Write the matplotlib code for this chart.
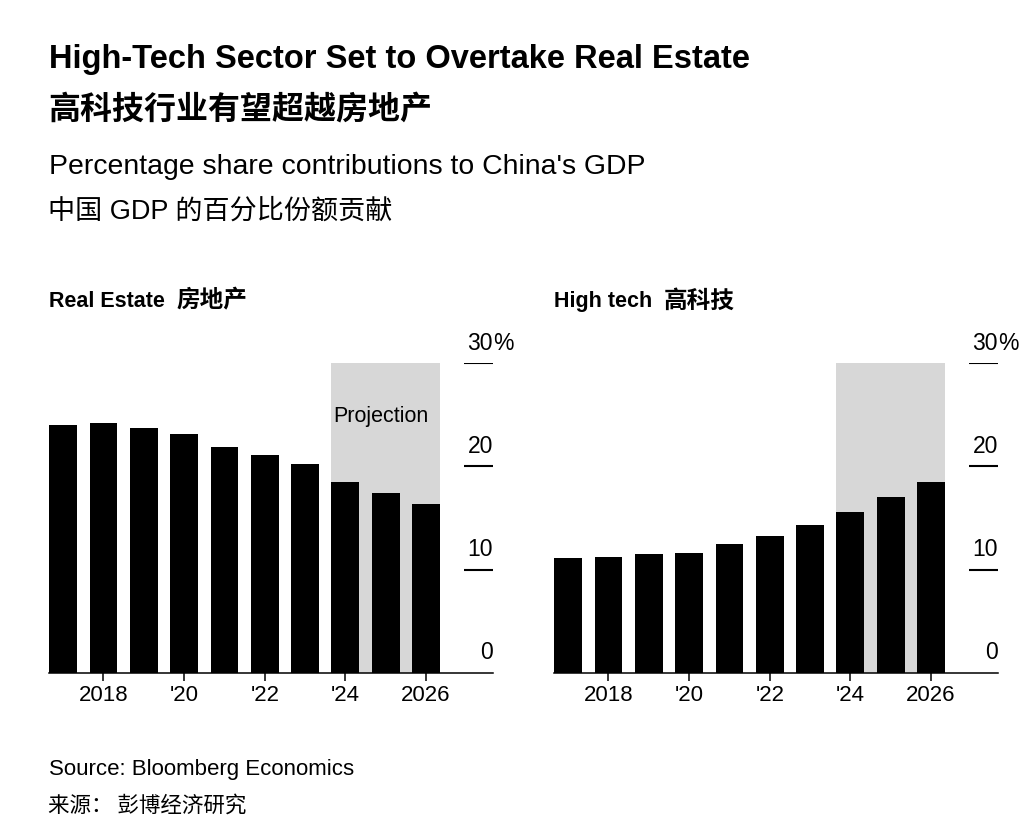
import matplotlib
matplotlib.use("Agg")
import matplotlib.pyplot as plt

plt.rcParams['font.family'] = ['Liberation Sans', 'Noto Sans CJK SC']

years = list(range(2017, 2027))
real_estate = [24.0, 24.2, 23.7, 23.1, 21.9, 21.1, 20.2, 18.5, 17.4, 16.4]
high_tech = [11.1, 11.2, 11.5, 11.6, 12.5, 13.3, 14.3, 15.6, 17.0, 18.5]
proj_start, proj_end = 2024, 2026
tick_years = [2018, 2020, 2022, 2024, 2026]
tick_labels = ['2018', "'20", "'22", "'24", '2026']
y_ticks = [0, 10, 20, 30]

W, H = 1032, 840
fig = plt.figure(figsize=(W / 100, H / 100), dpi=100)
fig.patch.set_facecolor('white')


def ftext(x, y, s, **kw):
    # x, y in pixels from top-left
    return fig.text(x / W, 1 - y / H, s, **kw)


ftext(49, 68, 'High-Tech Sector Set to Overtake Real Estate', fontsize=23.5,
      fontweight='bold', va='baseline')
ftext(48, 119, '高科技行业有望超越房地产', fontsize=23, fontweight='bold',
      va='baseline', family=['Noto Sans CJK SC'])
ftext(49, 174, "Percentage share contributions to China's GDP", fontsize=20.4,
      va='baseline')
ftext(48, 219, '中国 GDP 的百分比份额贡献', fontsize=19.5, va='baseline')
ftext(49, 775, 'Source: Bloomberg Economics', fontsize=16, va='baseline')
ftext(48, 812, '来源： 彭博经济研究', fontsize=15.5, va='baseline',
      family=['Noto Sans CJK SC'])

renderer = fig.canvas.get_renderer()


def panel(left_px, values, title_en, title_cn, show_proj):
    ax = fig.add_axes([left_px / W, (H - 672.7) / H, 443.7 / W, 309.4 / H])
    x0, x1 = 2016.657, 2027.66
    ax.set_xlim(x0, x1)
    ax.set_ylim(0, 30)
    bw = 0.69
    ax.axvspan(proj_start - bw / 2, proj_end + bw / 2, ymin=0, ymax=1,
               color='#d7d7d7', lw=0, zorder=0)
    ax.bar(years, values, width=bw, color='black', zorder=2)
    for s in ['top', 'left', 'right']:
        ax.spines[s].set_visible(False)
    ax.spines['bottom'].set_linewidth(1.1)
    ax.set_yticks([])
    ax.set_xticks(tick_years)
    ax.set_xticklabels(tick_labels, fontsize=16)
    ax.tick_params(axis='x', length=6, width=1.1, pad=3)
    gx = 2026.94
    ax.hlines([10, 20, 30], gx, x1, color='black', lw=1.5, zorder=3)
    for v in y_ticks:
        ax.annotate(str(v), xy=(x1, v), xytext=(0, 9.6),
                    textcoords='offset points', ha='right', va='baseline',
                    fontsize=16.5, annotation_clip=False)
    ax.annotate('%', xy=(x1, 30), xytext=(0, 9.6), textcoords='offset points',
                ha='left', va='baseline', fontsize=16.5, annotation_clip=False)
    if show_proj:
        ax.text(proj_start - bw / 2 + 0.05, 24.27, 'Projection', fontsize=15.5,
                va='baseline', ha='left', zorder=4)
    t = ftext(left_px, 306.7, title_en, fontsize=15.5, fontweight='bold',
              va='baseline')
    bb = t.get_window_extent(renderer=renderer)
    ftext(bb.x1 + 11, 306.7 + 1, title_cn, fontsize=17, fontweight='bold',
          va='baseline', family=['Noto Sans CJK SC'])
    return ax


panel(49.3, real_estate, 'Real Estate', '房地产', True)
panel(554.3, high_tech, 'High tech', '高科技', False)

fig.savefig('out.png', dpi=100)
